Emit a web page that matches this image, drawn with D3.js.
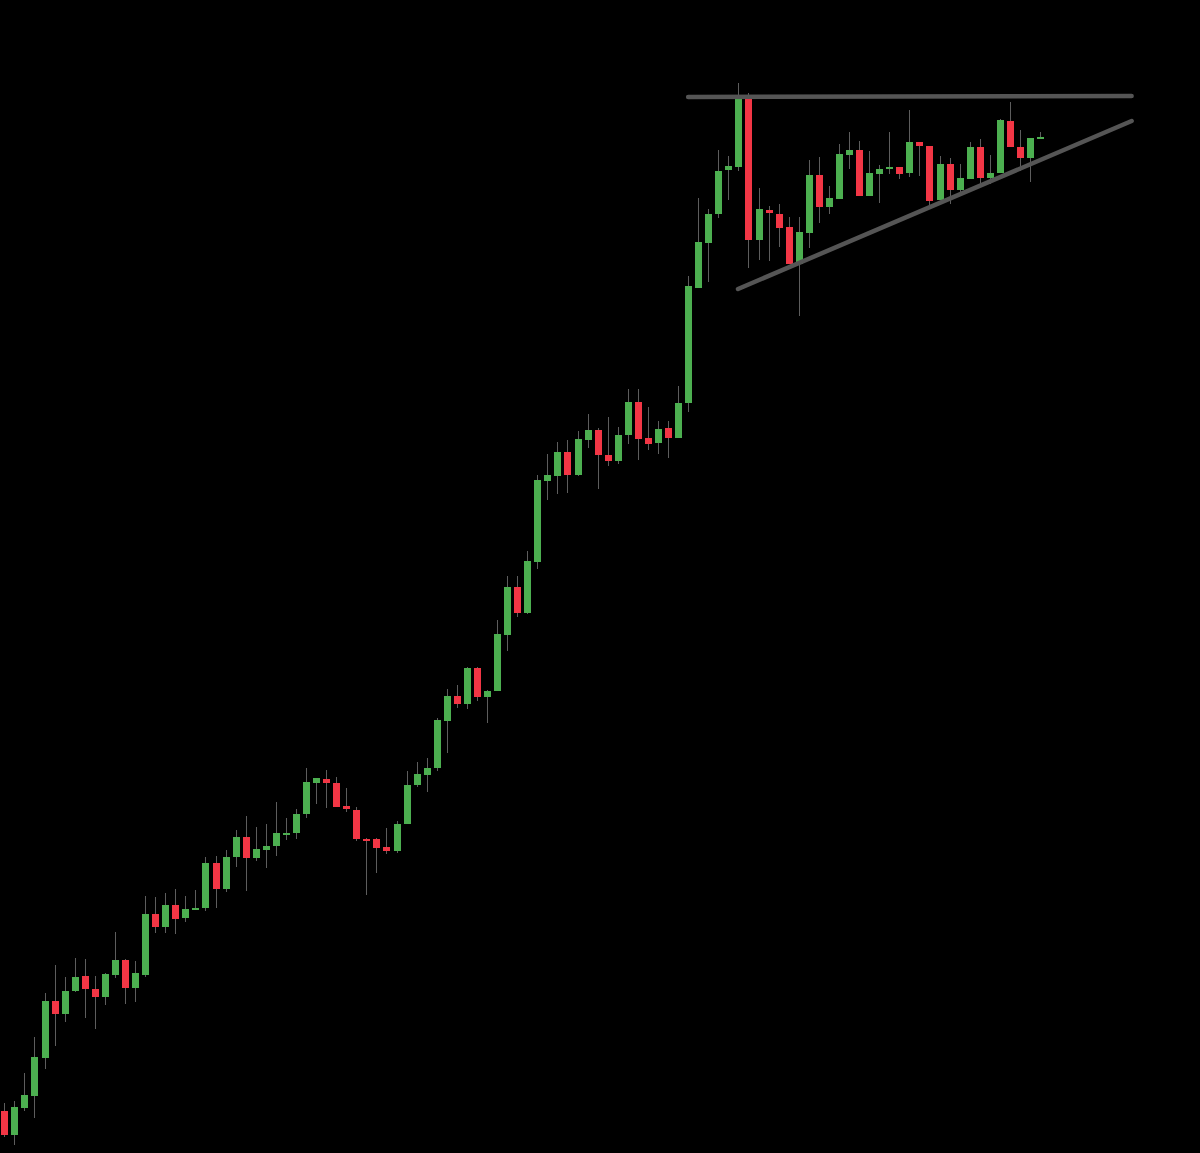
<!DOCTYPE html>
<html>
<head>
<meta charset="utf-8">
<script src="https://cdn.jsdelivr.net/npm/d3@7"></script>
<style>
html,body{margin:0;padding:0;background:#000;}
svg{display:block;}
</style>
</head>
<body>
<svg id="chart" width="1200" height="1153"></svg>
<script>
// OHLC series (arbitrary price units), one entry per bar
const opens  = [42,18,45,57,95,152,139,162,177,164,156,178,193,165,178,239,226,248,235,243,245,290,264,296,316,295,303,307,319,320,339,370,374,370,347,343,314,314,306,302,329,368,378,385,432,457,449,485,456,462,518,566,540,591,672,677,701,678,713,723,698,692,718,751,715,710,725,715,750,865,910,939,983,986,1054,913,943,939,926,889,920,978,946,954,998,1003,957,979,984,986,980,1011,1007,953,989,963,974,1006,975,980,1032,1006,995,1014];
const highs  = [50,52,80,116,160,188,176,195,194,177,180,221,194,192,257,256,260,264,257,263,296,297,303,323,337,326,329,351,335,344,385,375,383,376,365,346,315,315,325,332,382,391,395,435,464,468,486,486,463,533,577,577,602,678,699,711,713,722,739,725,736,726,764,764,746,732,732,767,877,955,944,1003,997,1070,1060,965,947,949,936,936,993,996,967,1009,1021,1012,1002,988,1021,986,1043,1011,1007,997,995,989,1011,1014,998,1034,1051,1023,1015,1021];
const lows   = [16,8,42,35,84,107,131,161,135,124,148,175,149,151,176,220,220,219,231,243,242,245,261,286,262,292,285,297,313,314,335,349,345,346,341,312,258,280,299,300,329,366,361,382,400,445,444,452,430,462,502,536,539,584,653,659,660,677,705,664,687,689,709,693,703,699,695,715,741,865,871,935,953,982,885,893,892,906,889,837,905,930,939,954,984,957,957,950,979,974,976,977,947,953,949,960,974,969,969,980,1006,982,971,1014];
const closes = [18,46,58,96,152,139,162,176,164,156,179,193,165,180,239,226,248,234,244,245,290,264,296,316,295,304,307,320,320,339,371,375,370,346,344,314,313,305,302,329,368,379,385,433,457,449,485,456,462,519,566,540,592,673,678,701,678,714,723,698,692,718,751,714,709,724,715,750,867,911,939,982,987,1055,913,944,940,925,889,921,978,946,955,999,1003,957,980,984,986,979,1011,1007,952,989,963,975,1006,975,980,1033,1006,995,1015,1016];

// Drawn trend lines (bar index, price)
const resistance = [[68.0, 1056], [112.1, 1057]];
const support    = [[72.96, 864], [112.1, 1032]];

const bars = opens.map((o, i) => ({i, o, h: highs[i], l: lows[i], c: closes[i]}));

const W = 1200, H = 1153;
const svg = d3.select("#chart");
svg.append("rect").attr("width", W).attr("height", H).attr("fill", "#000");

const x = d3.scaleLinear().domain([-0.43, 118.9]).range([0, W]);
const y = d3.scaleLinear().domain([0, 1153]).range([H, 0]);

const up = "#4caf50", down = "#f23645", wick = "#5d5d5d";
const bw = 7;

const g = svg.append("g");
g.selectAll("line.wick").data(bars).join("line")
  .attr("class", "wick")
  .attr("x1", d => Math.round(x(d.i)) + 0.5)
  .attr("x2", d => Math.round(x(d.i)) + 0.5)
  .attr("y1", d => y(d.h))
  .attr("y2", d => y(d.l))
  .attr("stroke", wick)
  .attr("stroke-width", 1);

g.selectAll("rect.body").data(bars).join("rect")
  .attr("class", "body")
  .attr("x", d => Math.round(x(d.i)) + 0.5 - bw / 2)
  .attr("width", bw)
  .attr("y", d => y(Math.max(d.o, d.c)))
  .attr("height", d => Math.max(2, Math.abs(y(d.o) - y(d.c))))
  .attr("fill", d => d.c >= d.o ? up : down);

const line = d3.line().x(d => x(d[0])).y(d => y(d[1]));
[resistance, support].forEach(pts => {
  svg.append("path")
    .attr("d", line(pts))
    .attr("fill", "none")
    .attr("stroke", "#555555")
    .attr("stroke-width", 4.5)
    .attr("stroke-linecap", "round");
});
</script>
</body>
</html>
